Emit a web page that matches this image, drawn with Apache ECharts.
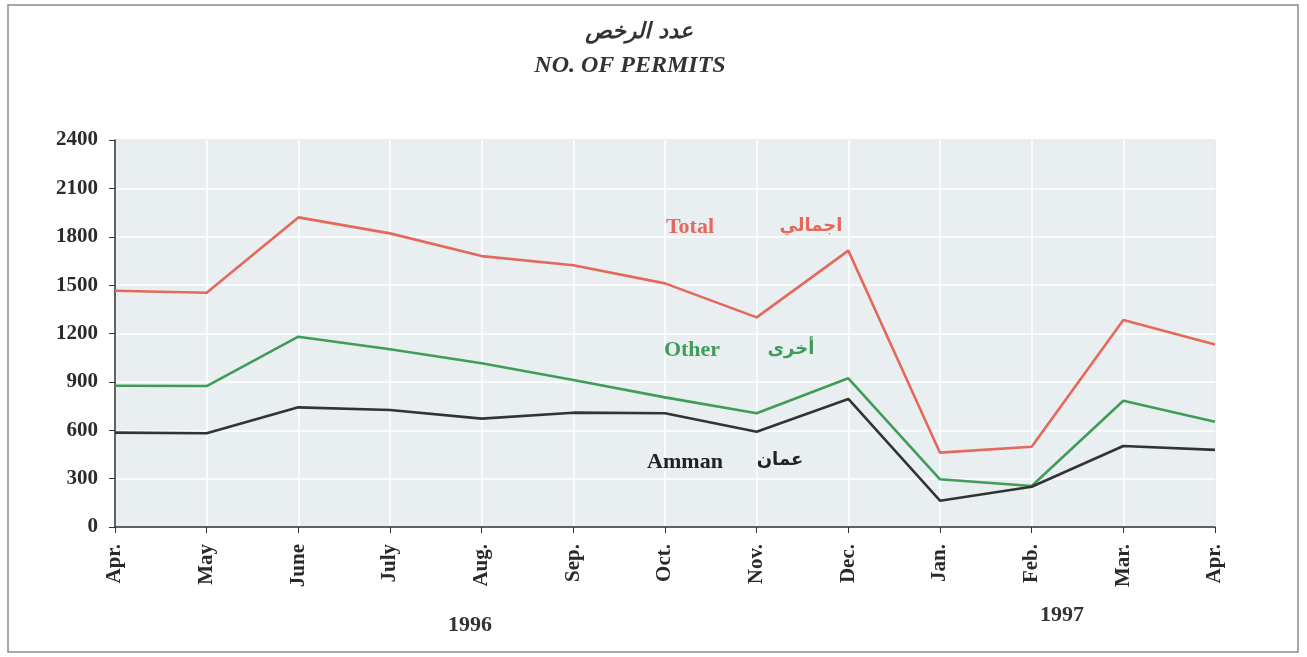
<!DOCTYPE html>
<html><head><meta charset="utf-8">
<script src="https://cdn.jsdelivr.net/npm/echarts@6/dist/echarts.min.js"></script>
<style>html,body{margin:0;padding:0;background:#fff}#c{width:1307px;height:657px}</style>
</head><body><div id="c"></div>
<script>
const months = ['Apr.','May','June','July','Aug.','Sep.','Oct.','Nov.','Dec.','Jan.','Feb.','Mar.','Apr.'];
const total  = [1465,1453,1920,1821,1680,1623,1511,1300,1714,461,498,1284,1132];
const other  = [876,874,1180,1102,1015,912,804,705,922,296,254,783,653];
const amman  = [585,581,742,726,672,709,705,591,794,163,250,502,478];
const yTicks = [0,300,600,900,1200,1500,1800,2100,2400];

const serif = '"Liberation Serif","Times New Roman",serif';
const chart = echarts.init(document.getElementById('c'), null, {renderer:'canvas'});
const mk = (name, data, color) => ({
  name, type:'line', data, symbol:'none', smooth:false,
  lineStyle:{color, width:2.6}, itemStyle:{color}, z:5
});
chart.setOption({
  animation:false,
  backgroundColor:'#ffffff',
  grid:{left:115, right:92, top:140, bottom:130, show:true, backgroundColor:'#e9eef0', borderColor:'#6a6a6a', borderWidth:1},
  xAxis:{
    type:'category', data:months, boundaryGap:false,
    axisLine:{lineStyle:{color:'#333', width:1.5}},
    axisTick:{show:true, length:6, lineStyle:{color:'#333'}},
    axisLabel:{rotate:90, margin:17, color:'#2a2a2a', fontFamily:serif, fontWeight:'bold', fontSize:21},
    splitLine:{show:true, lineStyle:{color:'#ffffff', width:1.5}}
  },
  yAxis:{
    type:'value', min:yTicks[0], max:yTicks[yTicks.length-1], interval:300,
    axisLine:{show:true, lineStyle:{color:'#333', width:1.5}},
    axisTick:{show:true, length:6, lineStyle:{color:'#333'}},
    axisLabel:{color:'#2a2a2a', fontFamily:serif, fontWeight:'bold', fontSize:21, margin:17, formatter: v => String(v)},
    splitLine:{show:true, lineStyle:{color:'#ffffff', width:1.5}}
  },
  series:[mk('Total', total, '#e4695c'), mk('Other', other, '#3f9c59'), mk('Amman', amman, '#333333')],
  graphic:[
    {type:'rect', shape:{x:8, y:5, width:1290, height:647}, style:{fill:'none', stroke:'#8a8a8a', lineWidth:1.5}, z:0},
    {type:'text', x:639, y:32, style:{text:'عدد الرخص', font:'italic bold 22px "DejaVu Sans", serif', fill:'#333', textAlign:'center', textVerticalAlign:'middle'}},
    {type:'text', x:630, y:66, style:{text:'NO. OF PERMITS', font:'italic bold 24px '+serif, fill:'#333', textAlign:'center', textVerticalAlign:'middle'}},
    {type:'text', x:690, y:227, z:10, style:{text:'Total', font:'bold 22px '+serif, fill:'#e4695c', textAlign:'center', textVerticalAlign:'middle'}},
    {type:'text', x:811, y:226, z:10, style:{text:'اجمالي', font:'bold 18px "DejaVu Sans", sans-serif', fill:'#e4695c', textAlign:'center', textVerticalAlign:'middle'}},
    {type:'text', x:692, y:350, z:10, style:{text:'Other', font:'bold 22px '+serif, fill:'#3f9c59', textAlign:'center', textVerticalAlign:'middle'}},
    {type:'text', x:791, y:349, z:10, style:{text:'أخرى', font:'bold 18px "DejaVu Sans", sans-serif', fill:'#3f9c59', textAlign:'center', textVerticalAlign:'middle'}},
    {type:'text', x:685, y:462, z:10, style:{text:'Amman', font:'bold 22px '+serif, fill:'#222', textAlign:'center', textVerticalAlign:'middle'}},
    {type:'text', x:780, y:460, z:10, style:{text:'عمان', font:'bold 18px "DejaVu Sans", sans-serif', fill:'#222', textAlign:'center', textVerticalAlign:'middle'}},
    {type:'text', x:470, y:625, style:{text:'1996', font:'bold 22px '+serif, fill:'#333', textAlign:'center', textVerticalAlign:'middle'}},
    {type:'text', x:1062, y:615, style:{text:'1997', font:'bold 22px '+serif, fill:'#333', textAlign:'center', textVerticalAlign:'middle'}}
  ]
});
</script></body></html>
